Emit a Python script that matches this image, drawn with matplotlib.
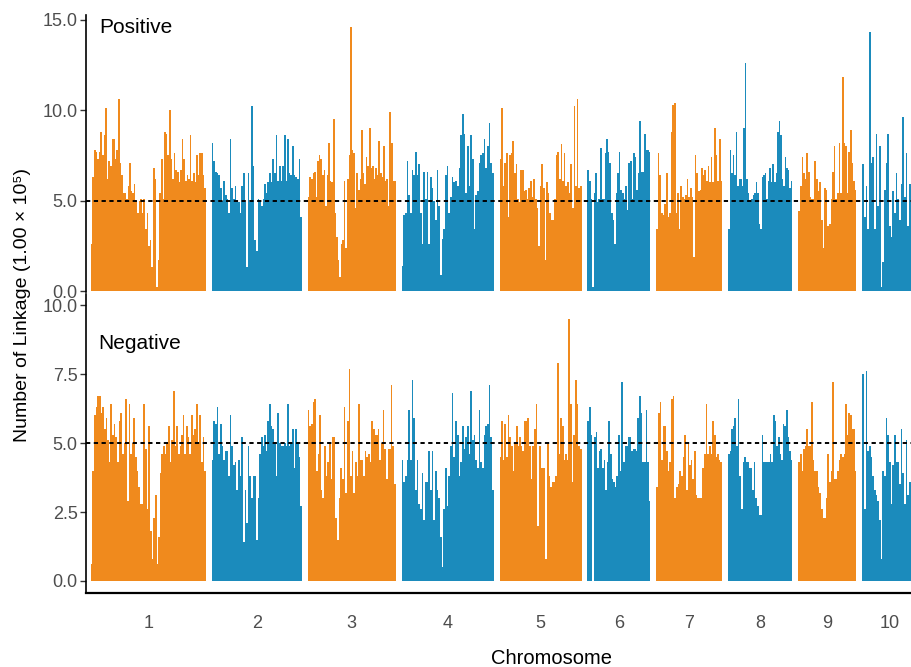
import numpy as np
import matplotlib.pyplot as plt

plt.rcParams['font.family'] = ['Liberation Sans', 'DejaVu Sans']

# chromosomes (lengths in Mb)
chrom_names = ['1', '2', '3', '4', '5', '6', '7', '8', '9', '10']
chrom_len = [313, 245, 239, 250, 223, 171, 179, 175, 158, 150]

# Positive linkage (x 1e5), values along each chromosome
pos_chr1 = [2.6, 6.3, 7.8, 7.7, 7.3, 7.7, 8.8, 7.5, 8.6, 10.1, 6.2, 7.2, 6.9, 8.4, 8.4, 7.3, 7.8, 10.6,
            7.1, 6.4, 5.4, 5.4, 5.1, 5.8, 7.1, 5.5, 5.4, 5.9, 5.0, 4.3, 5.0, 5.1, 4.3, 5.1, 3.4, 4.3,
            2.5, 2.8, 1.3, 6.8, 6.2, 0.2, 1.7, 5.4, 7.3, 5.1, 8.8, 8.7, 7.5, 10.0, 7.3, 6.2, 7.6, 6.7,
            6.6, 6.0, 6.7, 8.4, 7.3, 6.1, 6.4, 6.2, 8.6, 6.1, 6.5, 6.0, 7.5, 6.4, 7.6, 7.6, 6.4, 5.7]
pos_chr2 = [8.2, 7.2, 6.6, 6.5, 6.4, 5.7, 5.0, 6.1, 5.3, 5.1, 4.3, 8.4, 5.7, 5.1, 5.8, 5.0, 4.9, 4.3,
            5.8, 6.5, 4.9, 1.3, 6.5, 4.9, 10.2, 6.9, 2.8, 2.2, 5.1, 4.9, 4.7, 5.1, 5.9, 5.4, 6.0, 6.5,
            6.0, 7.3, 6.5, 8.6, 6.1, 6.9, 6.1, 6.9, 8.6, 6.1, 8.4, 6.5, 6.4, 8.0, 6.4, 6.3, 6.2, 7.3, 4.1]
pos_chr3 = [5.2, 6.3, 6.2, 6.5, 6.6, 5.2, 7.2, 7.5, 7.3, 6.4, 6.7, 4.7, 6.4, 8.2, 6.1, 6.0, 9.5, 4.3,
            3.0, 1.7, 0.8, 2.6, 2.8, 6.1, 2.4, 6.2, 7.5, 14.6, 7.8, 7.6, 4.6, 6.5, 5.6, 6.2, 8.9, 6.5,
            5.9, 7.4, 6.9, 9.0, 6.8, 6.9, 6.2, 6.8, 6.4, 8.3, 6.5, 6.3, 8.0, 6.1, 6.2, 4.7, 9.9, 8.2,
            6.1, 6.1]
pos_chr4 = [1.4, 4.2, 4.3, 7.2, 5.3, 4.3, 6.7, 6.4, 7.7, 6.4, 7.0, 4.3, 2.6, 6.6, 5.1, 6.6, 2.6, 6.3,
            5.7, 5.0, 3.9, 6.7, 4.7, 0.9, 2.9, 3.4, 6.4, 6.9, 4.3, 5.2, 6.3, 6.0, 6.1, 5.8, 6.8, 8.6,
            9.8, 8.7, 5.4, 8.0, 5.8, 8.6, 7.3, 3.4, 5.3, 5.5, 7.1, 7.5, 7.6, 8.4, 6.8, 8.0, 9.3, 7.1, 6.5]
pos_chr5 = [7.3, 10.1, 5.8, 7.1, 7.6, 4.1, 7.5, 7.6, 8.3, 6.5, 7.0, 5.1, 4.9, 6.7, 6.7, 5.5, 5.6, 5.1,
            5.7, 6.1, 5.2, 6.2, 5.1, 4.6, 2.5, 5.8, 7.0, 5.7, 1.7, 6.0, 5.4, 4.3, 3.9, 3.9, 5.1, 7.5,
            7.7, 6.2, 8.1, 6.1, 7.6, 5.8, 6.0, 5.4, 7.0, 4.6, 10.2, 5.8, 10.6, 5.7, 5.8]
pos_chr6 = [6.7, 6.1, 5.1, 0.2, 5.4, 6.5, 4.9, 5.1, 7.9, 5.1, 5.1, 7.6, 8.4, 7.7, 7.1, 4.3, 3.9, 2.6,
            5.4, 6.5, 7.7, 5.6, 5.4, 5.1, 5.8, 4.5, 7.1, 7.2, 5.1, 7.6, 7.4, 5.6, 6.5, 9.4, 6.6, 6.6,
            8.7, 7.8, 7.8, 7.7]
pos_chr7 = [3.4, 7.6, 6.4, 4.3, 4.2, 4.8, 6.5, 4.1, 4.3, 8.8, 10.3, 10.4, 4.3, 5.4, 3.4, 5.8, 5.2, 5.1,
            5.3, 6.2, 5.2, 5.7, 5.2, 1.9, 7.5, 6.5, 5.5, 5.6, 6.8, 6.4, 6.7, 6.1, 6.9, 6.0, 7.4, 6.0,
            9.0, 7.5, 6.1, 8.4, 6.1]
pos_chr8 = [3.4, 7.8, 6.5, 7.5, 6.4, 8.8, 5.8, 6.2, 6.2, 5.8, 9.0, 12.6, 6.2, 5.4, 4.9, 5.1, 5.3, 5.4,
            6.0, 5.4, 3.7, 3.4, 6.3, 6.4, 6.5, 5.1, 6.1, 6.8, 6.0, 7.0, 6.0, 6.5, 8.8, 9.4, 8.6, 6.2,
            5.8, 7.4, 6.8, 6.7, 5.7, 6.1]
pos_chr9 = [4.4, 5.8, 7.4, 6.5, 6.2, 7.6, 6.6, 5.2, 5.1, 5.1, 7.2, 6.2, 5.5, 6.0, 3.9, 2.4, 5.7, 5.6,
            3.6, 3.7, 5.1, 6.6, 8.0, 5.1, 5.4, 8.2, 5.4, 11.8, 8.2, 8.0, 5.4, 7.7, 8.9, 7.1, 6.1, 5.6]
pos_chr10 = [7.0, 4.1, 5.8, 3.4, 14.3, 7.1, 7.4, 3.4, 8.7, 4.7, 8.0, 0.2, 1.6, 5.6, 7.1, 8.7, 3.6, 3.0,
             5.5, 4.3, 6.5, 5.1, 3.9, 5.9, 9.6, 5.2, 7.6, 3.6, 5.9, 5.5, 5.6, 6.2, 5.0]

# Negative linkage (x 1e5)
neg_chr1 = [0.6, 4.0, 6.0, 6.3, 6.7, 6.7, 6.1, 6.3, 5.5, 5.9, 5.1, 4.3, 6.4, 5.3, 5.7, 5.2, 4.3, 5.8,
            6.1, 4.6, 5.0, 6.6, 2.9, 6.4, 4.6, 5.0, 5.9, 4.5, 4.0, 3.4, 2.8, 2.8, 6.4, 4.8, 2.6, 5.6,
            1.8, 0.8, 2.3, 3.1, 0.6, 1.6, 3.9, 4.6, 4.9, 4.6, 5.0, 5.6, 4.3, 5.1, 6.9, 4.9, 5.6, 4.6,
            4.9, 5.3, 6.0, 4.6, 5.6, 5.2, 4.6, 6.0, 5.3, 5.5, 6.4, 5.0, 6.0, 4.3, 5.2, 4.0]
neg_chr2 = [4.4, 5.8, 5.7, 6.3, 4.6, 5.7, 4.9, 4.4, 4.7, 4.7, 3.8, 6.0, 4.9, 4.2, 4.3, 3.3, 4.4, 3.8,
            5.2, 1.4, 3.3, 2.1, 4.9, 3.8, 3.0, 3.8, 3.8, 1.5, 3.0, 4.6, 5.2, 4.9, 5.3, 4.7, 5.8, 6.4,
            5.6, 5.5, 5.0, 3.8, 6.1, 5.0, 4.9, 4.9, 5.0, 4.9, 6.4, 4.9, 5.0, 5.5, 4.1, 5.5, 5.0, 4.5, 2.7]
neg_chr3 = [6.2, 5.6, 5.7, 6.5, 6.6, 4.0, 4.6, 6.0, 3.3, 3.0, 4.9, 3.8, 4.3, 5.0, 3.7, 5.2, 5.2, 2.3,
            1.5, 3.0, 4.1, 3.7, 6.3, 3.2, 5.8, 7.7, 3.8, 4.7, 3.2, 4.3, 3.8, 6.4, 4.4, 4.4, 3.8, 4.7,
            4.5, 4.6, 4.3, 5.8, 5.5, 5.3, 5.3, 5.5, 4.4, 5.0, 6.2, 4.8, 3.7, 4.8, 4.8, 7.1, 4.9, 3.5]
neg_chr4 = [4.4, 3.6, 3.8, 4.4, 6.2, 4.4, 7.3, 5.9, 3.3, 4.4, 2.8, 2.6, 3.9, 2.2, 3.6, 3.6, 4.7, 3.3,
            4.7, 2.2, 4.0, 3.3, 3.0, 1.6, 0.5, 2.6, 4.1, 2.7, 3.8, 4.9, 6.8, 4.5, 5.8, 5.3, 3.8, 4.3,
            5.6, 4.8, 5.2, 5.6, 4.6, 6.9, 5.1, 5.3, 4.4, 4.1, 6.2, 4.3, 4.1, 5.3, 5.6, 5.7, 7.1, 5.2, 3.3]
neg_chr5 = [4.5, 5.8, 4.4, 5.7, 4.5, 6.0, 5.2, 4.9, 4.0, 5.0, 5.6, 4.9, 5.2, 4.9, 4.7, 5.8, 5.8, 5.9,
            4.9, 3.7, 4.9, 5.5, 6.4, 2.0, 4.9, 4.1, 4.1, 4.1, 0.8, 5.0, 3.8, 3.4, 3.6, 3.6, 3.8, 7.9,
            4.6, 5.9, 5.6, 4.4, 4.6, 4.4, 9.5, 6.4, 3.6, 5.3, 7.3, 6.4, 4.9, 4.8]
neg_chr6 = [5.8, 6.3, 5.3, 0.0, 5.2, 5.4, 4.1, 4.7, 4.8, 4.1, 4.4, 3.3, 4.3, 5.8, 4.6, 3.7, 3.6, 3.4,
            3.8, 5.3, 4.0, 7.2, 4.3, 4.9, 4.9, 5.2, 5.2, 4.7, 4.8, 4.8, 4.7, 5.9, 6.7, 6.1, 4.3, 4.3,
            6.2, 4.3, 2.9]
neg_chr7 = [3.4, 6.1, 6.5, 4.4, 5.6, 5.6, 4.7, 4.0, 4.3, 6.6, 6.7, 3.0, 3.4, 3.5, 4.0, 3.8, 4.5, 5.3,
            3.3, 5.0, 4.2, 4.4, 3.7, 4.7, 3.1, 3.0, 3.0, 3.0, 4.1, 4.6, 6.4, 4.6, 4.9, 4.6, 5.8, 5.3,
            4.5, 4.6, 4.4, 4.3]
neg_chr8 = [4.6, 4.7, 5.5, 5.6, 5.9, 4.9, 6.6, 3.8, 2.6, 4.3, 4.5, 4.3, 4.3, 4.1, 4.1, 3.3, 4.3, 3.0,
            2.7, 2.4, 2.4, 5.3, 4.3, 4.3, 4.3, 4.3, 4.6, 4.3, 6.0, 5.8, 4.9, 5.2, 4.6, 4.4, 5.7, 5.6,
            6.2, 5.2, 4.7, 4.4]
neg_chr9 = [4.3, 4.6, 4.0, 4.8, 4.9, 5.5, 4.9, 4.9, 6.5, 4.4, 4.0, 4.0, 3.4, 3.2, 2.6, 2.3, 2.3, 3.0,
            4.6, 3.6, 4.0, 7.2, 3.7, 3.7, 4.0, 4.4, 4.6, 4.5, 4.6, 6.4, 5.3, 6.1, 6.0, 5.5, 5.5, 4.0]
neg_chr10 = [7.5, 2.6, 7.6, 4.7, 4.9, 4.5, 3.8, 3.3, 3.1, 2.9, 2.2, 0.8, 4.0, 3.8, 5.9, 5.3, 4.3, 2.8,
             4.2, 5.3, 4.3, 4.3, 3.5, 5.5, 3.9, 2.8, 5.1, 3.1, 3.6, 3.3, 4.0, 4.5, 4.2]

positive = [pos_chr1, pos_chr2, pos_chr3, pos_chr4, pos_chr5,
            pos_chr6, pos_chr7, pos_chr8, pos_chr9, pos_chr10]
negative = [neg_chr1, neg_chr2, neg_chr3, neg_chr4, neg_chr5,
            neg_chr6, neg_chr7, neg_chr8, neg_chr9, neg_chr10]
threshold = 5.0

colors = ['#F08A1D', '#1B8BBC']
gap = 16  # Mb between chromosomes
tick_grey = '#4D4D4D'

# chromosome start positions
starts = np.concatenate([[0], np.cumsum(np.array(chrom_len) + gap)[:-1]])
centers = starts + np.array(chrom_len) / 2


def draw_panel(ax, values):
    for i, vals in enumerate(values):
        n = len(vals)
        w = chrom_len[i] / n
        x = starts[i] + np.arange(n) * w
        ax.bar(x, vals, width=w, align='edge', color=colors[i % 2], linewidth=0)
    ax.axhline(threshold, color='black', lw=1.4, ls=(0, (2.2, 1.8)))
    ax.set_xlim(-12.8, 2232)
    for s in ['top', 'right']:
        ax.spines[s].set_visible(False)
    ax.spines['left'].set_linewidth(1.2)
    ax.tick_params(axis='y', labelsize=13, labelcolor=tick_grey, color='#333333',
                   length=4, width=1, pad=2)


W, H = 912, 667
fig = plt.figure(figsize=(W / 100, H / 100), dpi=100)


def rect(l, t, r, b):
    return [l / W, 1 - b / H, (r - l) / W, (b - t) / H]


# 1) Positive panel
ax1 = fig.add_axes(rect(86, 15, 912, 292))
draw_panel(ax1, positive)
ax1.set_ylim(-0.055, 15.25)
ax1.set_yticks([0, 5, 10, 15])
ax1.set_yticklabels(['0.0', '5.0', '10.0', '15.0'])
ax1.set_xticks([])
ax1.spines['bottom'].set_visible(False)

# 2) Negative panel
ax2 = fig.add_axes(rect(86, 294, 912, 593))
draw_panel(ax2, negative)
ax2.set_ylim(-0.435, 10.40)
ax2.set_yticks([0, 2.5, 5, 7.5, 10])
ax2.set_yticklabels(['0.0', '2.5', '5.0', '7.5', '10.0'])
ax2.set_xticks(centers)
ax2.set_xticklabels(chrom_names)
ax2.tick_params(axis='x', length=0, labelsize=13, labelcolor=tick_grey, pad=16)
ax2.spines['bottom'].set_linewidth(1.6)

# labels
fig.text(99 / W, 1 - 33 / H, 'Positive', fontsize=15, va='baseline', ha='left')
fig.text(98 / W, 1 - 349 / H, 'Negative', fontsize=15, va='baseline', ha='left')
fig.text(23 / W, 1 - 305 / H, 'Number of Linkage (1.00 \u00d7 10\u2075)', fontsize=14,
         rotation=90, va='center', ha='center')
fig.text(552 / W, 1 - 664 / H, 'Chromosome', fontsize=14.5, va='baseline', ha='center')

fig.savefig('out.png', dpi=100)
